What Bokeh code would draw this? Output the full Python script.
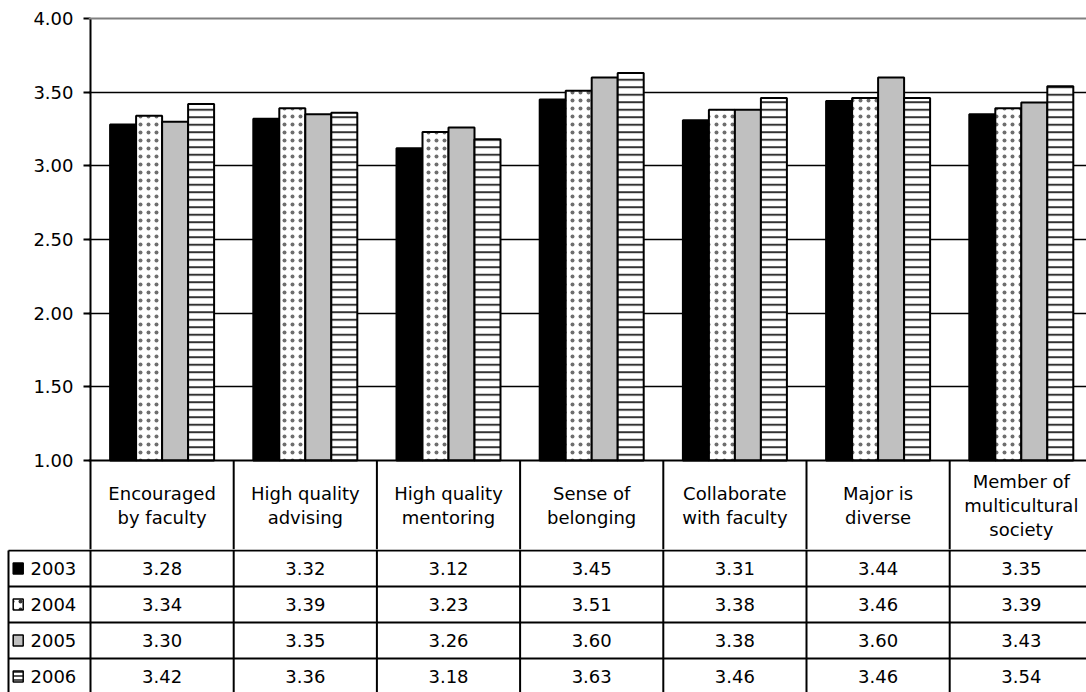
from bokeh.plotting import figure
from bokeh.models import Range1d, FixedTicker, Span, ColumnDataSource, NumeralTickFormatter
from bokeh.embed import file_html
from bokeh.resources import INLINE
from bokeh.core.properties import value

# ---------------- data ----------------
categories = [
    "Encouraged\nby faculty",
    "High quality\nadvising",
    "High quality\nmentoring",
    "Sense of\nbelonging",
    "Collaborate\nwith faculty",
    "Major is\ndiverse",
    "Member of\nmulticultural\nsociety",
]
years = ["2003", "2004", "2005", "2006"]
v2003 = [3.28, 3.32, 3.12, 3.45, 3.31, 3.44, 3.35]
v2004 = [3.34, 3.39, 3.23, 3.51, 3.38, 3.46, 3.39]
v2005 = [3.30, 3.35, 3.26, 3.60, 3.38, 3.60, 3.43]
v2006 = [3.42, 3.36, 3.18, 3.63, 3.46, 3.46, 3.54]
series = [v2003, v2004, v2005, v2006]
y_ticks = [1.0, 1.5, 2.0, 2.5, 3.0, 3.5, 4.0]

# ---------------- layout constants ----------------
FONT = "DejaVu Sans"
FS = "18px"
W = 1086
H = 692
PX = 143.2          # pixels per category column
AXIS_X = 90         # page x of value axis / table left border
UNIT = 442 / 3.0    # pixels per value unit
TOP_PAD = 18        # px above 4.00
HEADER_H = 90
ROW_H = 36
TOP_H = TOP_PAD + 442 + HEADER_H - 1   # top figure ends at header bottom line
BOT_H = H - TOP_H

x_end = (W - AXIS_X) / PX
cx = [i + 0.5 for i in range(len(categories))]
bw = 26 / PX
offsets = [-1.5, -0.5, 0.5, 1.5]

styles = [
    dict(fill_color="black"),
    dict(fill_color="white", hatch_pattern="dot", hatch_scale=8, hatch_weight=1, hatch_color="#555555", hatch_alpha=0.85),
    dict(fill_color="#C0C0C0"),
    dict(fill_color="white", hatch_pattern="horizontal_line", hatch_scale=7.5, hatch_weight=2, hatch_color="#333333"),
]
sw_styles = [
    dict(fill_color="black"),
    dict(fill_color="white", hatch_pattern="dot", hatch_scale=8, hatch_weight=1, hatch_color="#333333"),
    dict(fill_color="#C0C0C0"),
    dict(fill_color="white", hatch_pattern="horizontal_line", hatch_scale=4, hatch_weight=2, hatch_color="#555555"),
]

# ---------------- top: bar chart + header row ----------------
y_lo = y_ticks[0] - (HEADER_H - 1) / UNIT
y_header_mid = y_ticks[0] - (HEADER_H / 2) / UNIT
top = figure(
    width=W, height=TOP_H,
    x_range=Range1d(-2 / PX, x_end),
    y_range=Range1d(y_lo, y_ticks[-1] + TOP_PAD / UNIT),
    output_backend="svg", toolbar_location=None,
    x_axis_location=None, y_axis_location="left",
    min_border_left=AXIS_X - 2, min_border_right=0, min_border_top=0, min_border_bottom=0,
)
top.outline_line_color = None
top.xgrid.visible = False
top.ygrid.ticker = FixedTicker(ticks=y_ticks[1:-1])
top.ygrid.grid_line_color = "black"
top.ygrid.grid_line_width = 1.5

yax = top.yaxis[0]
yax.ticker = FixedTicker(ticks=y_ticks)
yax.formatter = NumeralTickFormatter(format="0.00")
yax.axis_line_color = None
yax.major_tick_out = 5
yax.major_tick_in = 2
yax.major_tick_line_width = 2
yax.major_tick_line_color = "black"
yax.minor_tick_line_color = None
yax.major_label_text_font = FONT
yax.major_label_text_font_size = FS
yax.major_label_text_color = "black"
yax.major_label_standoff = 10

top.add_layout(Span(location=y_ticks[-1], dimension="width", line_color="#808080", line_width=2))
top.add_layout(Span(location=y_ticks[0], dimension="width", line_color="black", line_width=2))
top.segment(x0=[0], y0=[y_lo], x1=[0], y1=[y_ticks[-1]], line_color="black", line_width=2)
vx = list(range(1, len(categories)))
top.segment(x0=vx, y0=[y_lo] * len(vx), x1=vx, y1=[y_ticks[0]] * len(vx), line_color="black", line_width=2)

for k, vals in enumerate(series):
    src = ColumnDataSource(dict(x=[c + offsets[k] * bw for c in cx], top=vals))
    top.vbar(x="x", top="top", bottom=y_ticks[0], width=bw, source=src,
             line_color="black", line_width=2, **styles[k])

top.text(x=cx, y=[y_header_mid] * len(cx), text=categories,
         text_align="center", text_baseline="middle",
         text_font=value(FONT), text_font_size=FS, text_color="black", text_line_height=1.12)

# ---------------- bottom: data rows ----------------
y_top = TOP_H - (TOP_PAD + 442)
y_bottom = y_top + BOT_H
bot = figure(
    width=W, height=BOT_H,
    x_range=Range1d(-AXIS_X / PX, x_end),
    y_range=Range1d(start=y_bottom, end=y_top),
    output_backend="svg", toolbar_location=None,
    x_axis_location=None, y_axis_location=None, min_border=0,
)
bot.outline_line_color = None
bot.grid.visible = False

leg_left = (8 - AXIS_X) / PX

hy = [HEADER_H + r * ROW_H for r in range(len(years))]
bot.segment(x0=[leg_left] * len(hy), y0=hy, x1=[x_end] * len(hy), y1=hy, line_color="black", line_width=2)
vx2 = list(range(len(categories)))
bot.segment(x0=vx2, y0=[y_top] * len(vx2), x1=vx2, y1=[y_bottom] * len(vx2), line_color="black", line_width=2)
bot.segment(x0=[leg_left], y0=[HEADER_H], x1=[leg_left], y1=[y_bottom], line_color="black", line_width=2)

for r, vals in enumerate(series):
    yc = HEADER_H + (r + 0.5) * ROW_H
    bot.text(x=cx, y=[yc] * len(cx), text=[f"{v:.2f}" for v in vals],
             text_align="center", text_baseline="middle",
             text_font=value(FONT), text_font_size=FS, text_color="black")

sw_x = (17.7 - AXIS_X) / PX
lab_x = (30 - AXIS_X) / PX
for r, yr in enumerate(years):
    yc = HEADER_H + (r + 0.5) * ROW_H
    bot.rect(x=[sw_x], y=[yc], width=10, height=11, width_units="screen", height_units="screen",
             line_color="black", line_width=1.5, **sw_styles[r])
    bot.text(x=[lab_x], y=[yc], text=[yr], text_align="left", text_baseline="middle",
             text_font=value(FONT), text_font_size=FS, text_color="black")

open("out.html", "w").write(file_html([top, bot], INLINE))
